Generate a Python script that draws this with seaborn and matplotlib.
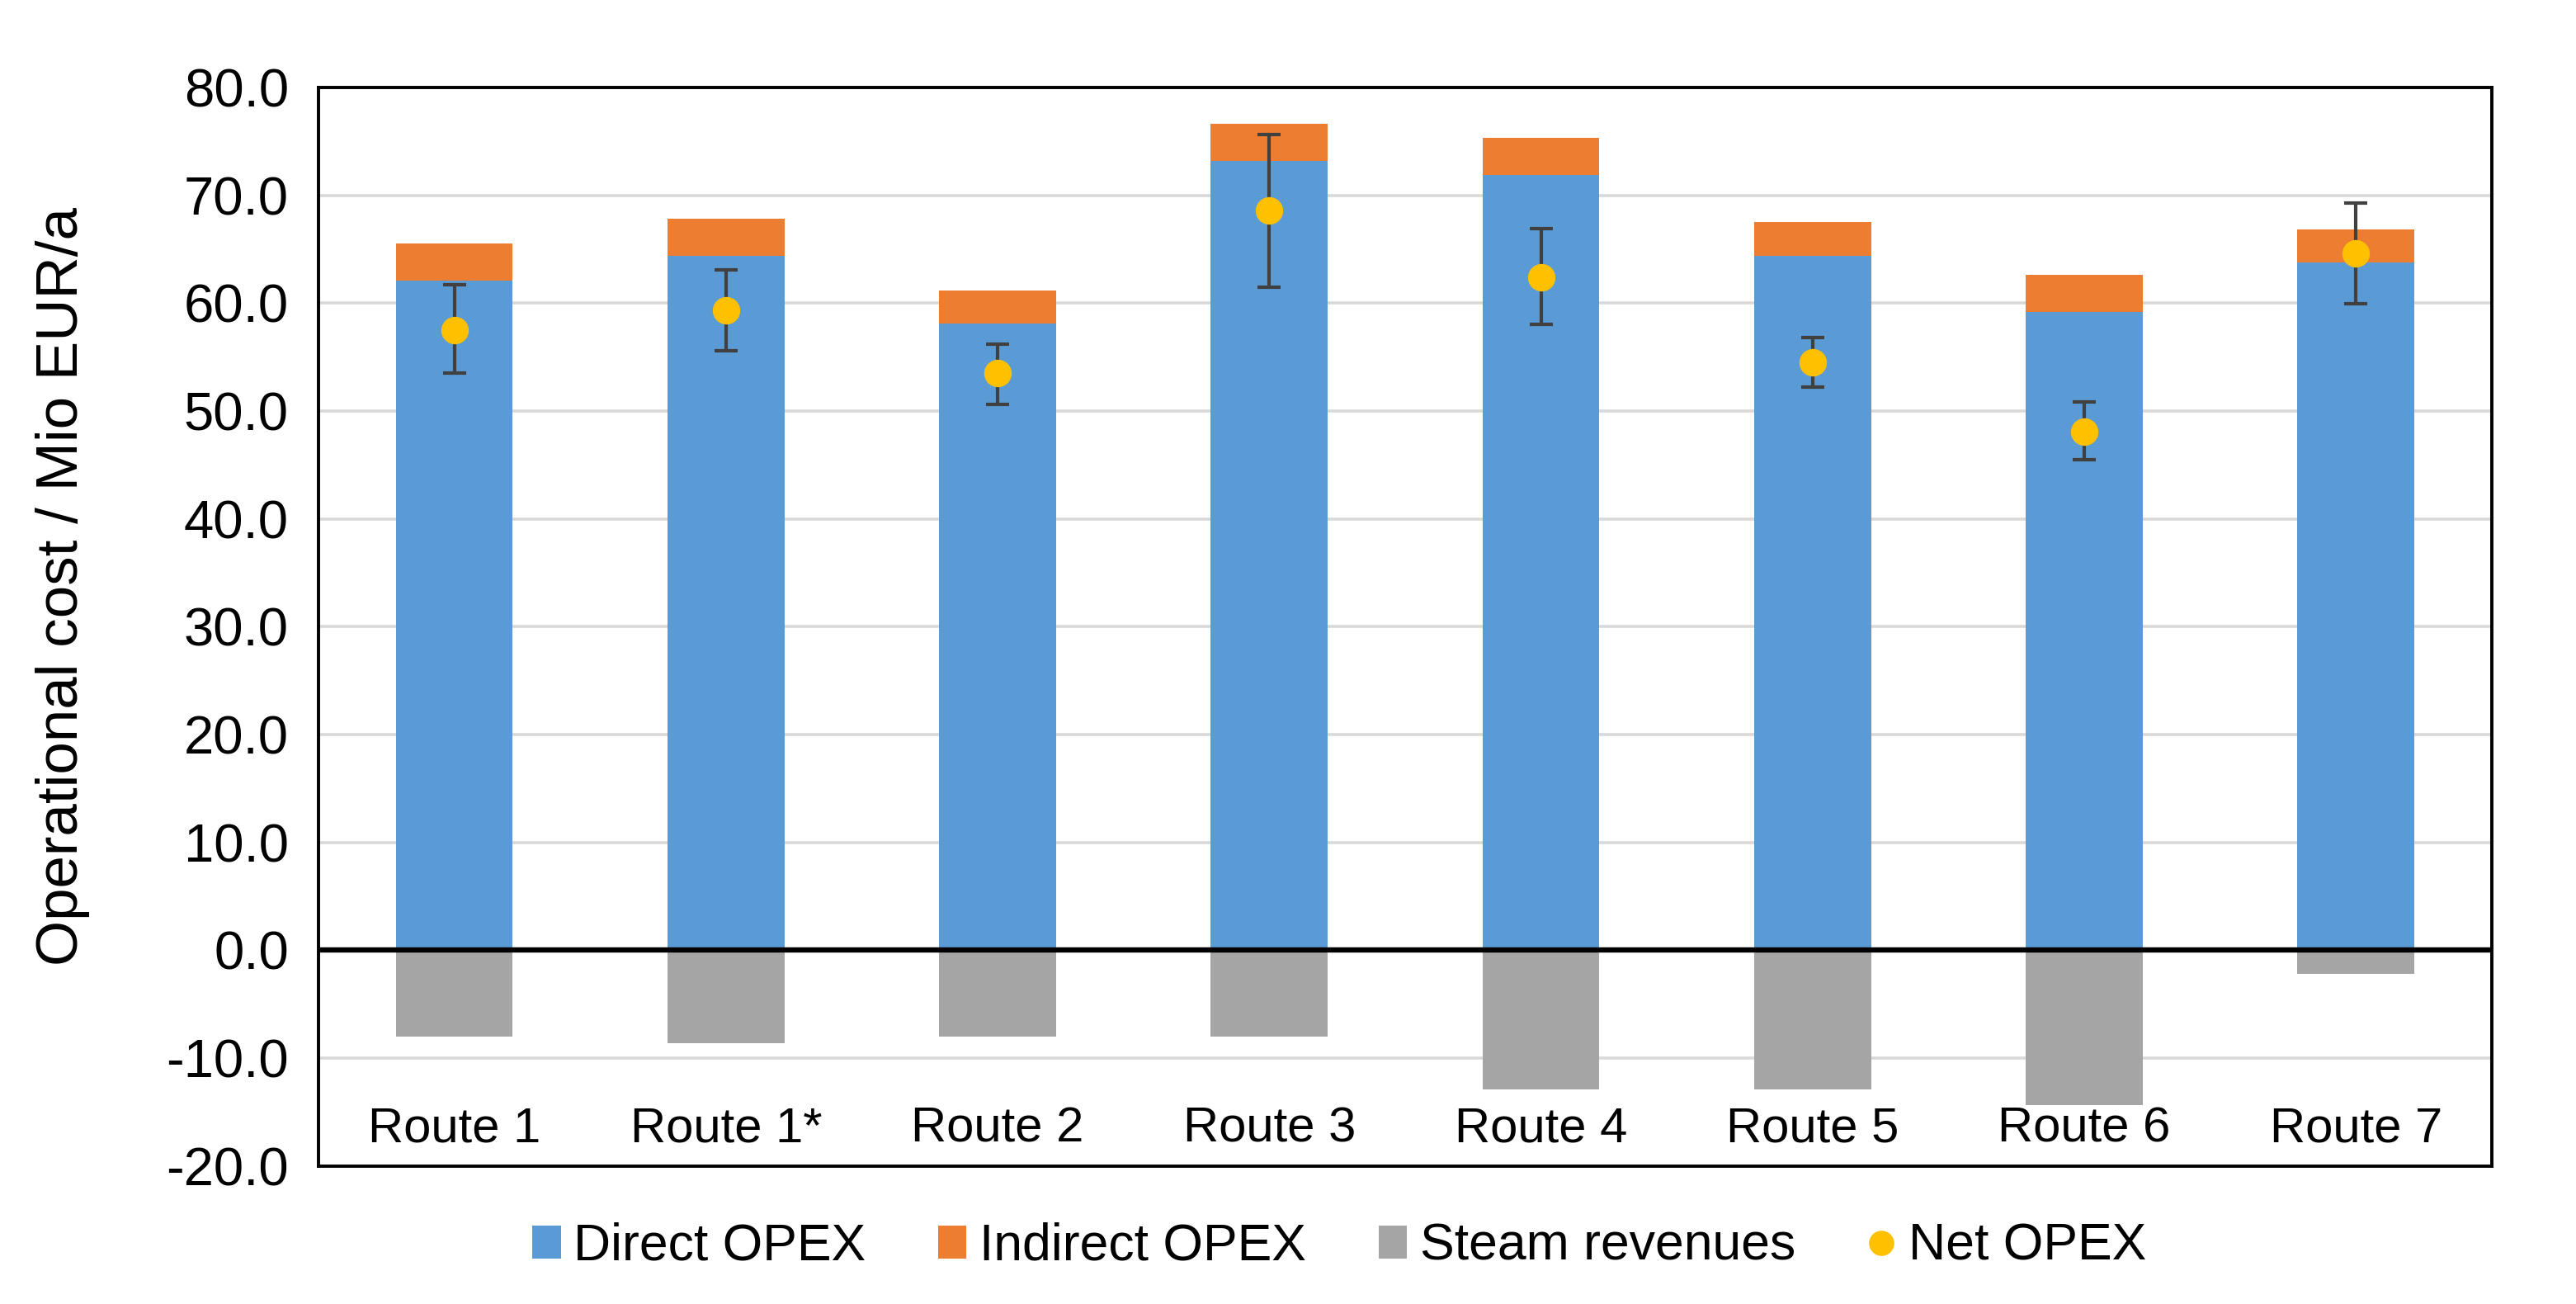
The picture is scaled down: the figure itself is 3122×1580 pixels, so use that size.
import numpy as np
import pandas as pd
import matplotlib
matplotlib.use("Agg")
import matplotlib.pyplot as plt
from matplotlib.patches import Patch
from matplotlib.lines import Line2D
import seaborn as sns

# chart values (Mio EUR/a)
routes = ["Route 1", "Route 1*", "Route 2", "Route 3", "Route 4", "Route 5", "Route 6", "Route 7"]
direct_opex = [62.1, 64.4, 58.1, 73.2, 71.9, 64.4, 59.2, 63.8]
indirect_opex = [3.4, 3.4, 3.1, 3.4, 3.4, 3.1, 3.4, 3.0]
steam_revenues = [-8.0, -8.6, -8.0, -8.0, -12.9, -12.9, -14.4, -2.2]
net_opex = [57.5, 59.3, 53.5, 68.6, 62.4, 54.5, 48.1, 64.6]
net_high = [61.7, 63.1, 56.2, 75.6, 66.9, 56.8, 50.8, 69.3]
net_low = [53.5, 55.6, 50.6, 61.5, 58.0, 52.2, 45.5, 59.9]

BLUE = "#5B9BD5"
ORANGE = "#ED7D31"
GREY = "#A5A5A5"
YELLOW = "#FFC000"

sns.set_style("white")
plt.rcParams['font.family'] = ['Liberation Sans', 'DejaVu Sans']
plt.rcParams['text.color'] = 'black'
plt.rcParams['xtick.color'] = 'black'
plt.rcParams['ytick.color'] = 'black'
plt.rcParams['axes.labelcolor'] = 'black'

df = pd.DataFrame({
    "Route": routes,
    "Direct": direct_opex,
    "Indirect": indirect_opex,
    "Steam": steam_revenues,
    "Net": net_opex,
})
df["Total"] = df["Direct"] + df["Indirect"]

fig = plt.figure(figsize=(15.61, 7.9), dpi=200)
ax = fig.add_axes([0.1236, 0.106, 0.8437, 0.827])

# horizontal grid behind the bars
ax.set_axisbelow(True)
ax.yaxis.grid(True, color="#D9D9D9", linewidth=1.3)

bar_w = 0.43
# stacked: total first (orange shows on top), then direct over it
sns.barplot(data=df, x="Route", y="Total", color=ORANGE, saturation=1, width=bar_w, linewidth=0, ax=ax)
sns.barplot(data=df, x="Route", y="Direct", color=BLUE, saturation=1, width=bar_w, linewidth=0, ax=ax)
sns.barplot(data=df, x="Route", y="Steam", color=GREY, saturation=1, width=bar_w, linewidth=0, ax=ax)

# net OPEX with asymmetric error bars
pos = np.arange(len(routes))
yerr = [np.array(net_opex) - np.array(net_low), np.array(net_high) - np.array(net_opex)]
ax.errorbar(pos, net_opex, yerr=yerr, fmt="none", ecolor="#404040", elinewidth=1.5,
            capsize=5.0, capthick=1.5, zorder=4)
ax.plot(pos, net_opex, "o", color=YELLOW, markersize=12, markeredgewidth=0, zorder=5)

ax.axhline(0, color="black", linewidth=2.3, zorder=6)

ax.set_ylim(-20, 80)
ax.set_xlim(-0.5, len(routes) - 0.5)
ax.set_yticks(np.arange(-20, 81, 10))
ax.set_yticklabels([f"{v:.1f}" for v in np.arange(-20, 81, 10)], fontsize=23.5)
ax.tick_params(axis="y", length=0, pad=13)
ax.tick_params(axis="x", length=0, pad=-26, labelsize=21.5)
ax.set_xlabel("")
ax.set_ylabel("Operational cost / Mio EUR/a", fontsize=25.5)
ax.yaxis.set_label_coords(-0.105, 0.537)

for s in ax.spines.values():
    s.set_visible(True)
    s.set_color("black")
    s.set_linewidth(1.4)

handles = [
    Patch(facecolor=BLUE, edgecolor="none"),
    Patch(facecolor=ORANGE, edgecolor="none"),
    Patch(facecolor=GREY, edgecolor="none"),
    Line2D([0], [0], marker="o", color="none", markerfacecolor=YELLOW, markeredgewidth=0, markersize=11),
]
labels = ["Direct OPEX", "Indirect OPEX", "Steam revenues", "Net OPEX"]
fig.legend(handles, labels, loc="center", bbox_to_anchor=(0.52, 0.044), ncol=4, frameon=False,
           fontsize=22.5, handlelength=0.55, handleheight=0.6, handletextpad=0.25, columnspacing=1.4)

fig.savefig("out.png", dpi=200, facecolor="white")
